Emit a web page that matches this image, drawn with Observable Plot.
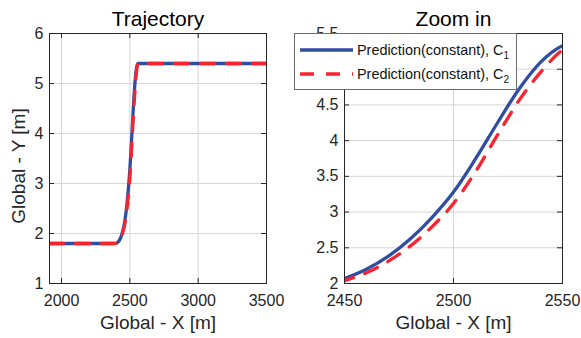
<!DOCTYPE html>
<html>
<head>
<meta charset="utf-8">
<script src="https://cdn.jsdelivr.net/npm/d3@7"></script>
<script src="https://cdn.jsdelivr.net/npm/@observablehq/plot@0.6"></script>
<style>
  body { margin: 0; background: #fff; }
  #wrap { position: relative; width: 581px; height: 338px; font-family: "Liberation Sans", Arial, sans-serif; color: #262626; overflow: hidden; }
  #wrap > svg { position: absolute; top: 0; }
  #legend { position: absolute; left: 294px; top: 33px; width: 223px; height: 57px; box-sizing: border-box;
            border: 1px solid #6a6a6a; background: #fff; z-index: 5; }
  #legend .row { position: absolute; left: 0; height: 20px; width: 100%; }
  #legend .row svg { position: absolute; left: 0; top: 0; }
  #legend .row span { position: absolute; left: 62px; font-size: 14.4px; white-space: nowrap; line-height: 1; color: #111; }
  #legend sub { font-size: 10px; vertical-align: -4px; line-height: 0; }
</style>
</head>
<body>
<div id="wrap"></div>
<script>
// ---- data ----
const titles = ["Trajectory", "Zoom in"];
const xLabel = "Global - X [m]";
const yLabel = "Global - Y [m]";
const seriesNames = ["Prediction(constant), C", "Prediction(constant), C"];
const seriesSubs = ["1", "2"];

// C1 (solid blue)
const xC1 = [1912, 2380, 2400, 2410, 2420, 2430, 2440, 2450, 2460, 2470, 2480, 2490, 2500, 2510, 2520, 2530, 2540, 2550, 2555, 2560, 3500];
const yC1 = [1.8, 1.8, 1.805, 1.82, 1.85, 1.9, 1.97, 2.07, 2.2, 2.38, 2.62, 2.92, 3.28, 3.74, 4.24, 4.72, 5.1, 5.33, 5.38, 5.4, 5.4];
// C2 (dashed red)
const xC2 = [1912, 2380, 2400, 2410, 2420, 2430, 2440, 2450, 2460, 2470, 2480, 2490, 2500, 2510, 2520, 2530, 2540, 2550, 2555, 2560, 2570, 3500];
const yC2 = [1.8, 1.8, 1.803, 1.815, 1.845, 1.89, 1.95, 2.04, 2.15, 2.31, 2.52, 2.79, 3.12, 3.56, 4.07, 4.56, 4.96, 5.27, 5.36, 5.395, 5.4, 5.4];

// axes / ticks
const xDomainL = [1912, 3500], yDomainL = [1, 6];
const xTicksL = [2000, 2500, 3000, 3500];
const yTicksL = [1, 2, 3, 4, 5, 6];
const xDomainR = [2450, 2550], yDomainR = [2, 5.5];
const xTicksR = [2450, 2500, 2550];
const yTicksR = [2, 2.5, 3, 3.5, 4, 4.5, 5, 5.5];

// ---- styles ----
const BLUE = "#2f4ea3", RED = "#f7232f", GRID = "#d6d6d6", AXIS = "#262626";
const DASH = "14,12";
const FONT = "Liberation Sans, Arial, sans-serif";

const c1 = xC1.map((x, i) => ({x, y: yC1[i]}));
const c2 = xC2.map((x, i) => ({x, y: yC2[i]}));

function panel({width, mLeft, mRight, title, xDomain, yDomain, xTicks, yTicks}) {
  const mTop = 33, mBottom = 55, height = 338;
  const pw = width - mLeft - mRight, ph = height - mTop - mBottom;
  const tl = 5;
  return Plot.plot({
    width, height,
    marginLeft: mLeft, marginRight: mRight, marginTop: mTop, marginBottom: mBottom,
    style: {fontFamily: FONT, fontSize: "16px", color: AXIS, background: "white", overflow: "visible"},
    x: {domain: xDomain, label: null},
    y: {domain: yDomain, label: null},
    marks: [
      Plot.gridX(xTicks, {stroke: GRID, strokeOpacity: 1, strokeWidth: 1}),
      Plot.gridY(yTicks, {stroke: GRID, strokeOpacity: 1, strokeWidth: 1}),
      Plot.line(c1, {x: "x", y: "y", stroke: BLUE, strokeWidth: 3.3, curve: "monotone-x", clip: true}),
      Plot.line(c2, {x: "x", y: "y", stroke: RED, strokeWidth: 3.3, strokeDasharray: DASH, curve: "monotone-x", clip: true}),
      Plot.frame({stroke: AXIS, strokeWidth: 1}),
      Plot.tickY(yTicks, {y: d => d, stroke: AXIS, insetRight: pw - tl}),
      Plot.tickY(yTicks, {y: d => d, stroke: AXIS, insetLeft: pw - tl}),
      Plot.tickX(xTicks, {x: d => d, stroke: AXIS, insetTop: ph - tl}),
      Plot.tickX(xTicks, {x: d => d, stroke: AXIS, insetBottom: ph - tl}),
      Plot.axisX(xTicks, {tickSize: 0, tickPadding: 11, tickFormat: d => String(d), fontSize: 16, fill: AXIS, label: null}),
      Plot.axisY(yTicks, {tickSize: 0, tickPadding: 6, tickFormat: d => String(d), fontSize: 16, fill: AXIS, label: null}),
      Plot.text([xLabel], {frameAnchor: "bottom", lineAnchor: "bottom", dy: 45, text: d => d, fontSize: 19, fill: AXIS}),
      Plot.text([title], {frameAnchor: "top", lineAnchor: "bottom", dy: -8, text: d => d, fontSize: 21, fill: "#000"})
    ]
  });
}

const wrap = document.getElementById("wrap");
const left = panel({width: 290, mLeft: 49, mRight: 24, title: titles[0], xDomain: xDomainL, yDomain: yDomainL, xTicks: xTicksL, yTicks: yTicksL});
left.style.left = "0px";
wrap.appendChild(left);
d3.select(left).append("text")
  .attr("transform", "translate(25,166) rotate(-90)")
  .attr("text-anchor", "middle")
  .attr("font-family", FONT).attr("font-size", 19).attr("fill", AXIS)
  .text(yLabel);

const right = panel({width: 291, mLeft: 54, mRight: 19, title: titles[1], xDomain: xDomainR, yDomain: yDomainR, xTicks: xTicksR, yTicks: yTicksR});
right.style.left = "290px";
wrap.appendChild(right);

// legend
const legend = document.createElement("div");
legend.id = "legend";
const rowsY = [15.5, 39.5];
seriesNames.forEach((name, i) => {
  const row = document.createElement("div");
  row.className = "row";
  row.style.top = (rowsY[i] - 10) + "px";
  const s = d3.create("svg").attr("width", 62).attr("height", 20);
  s.append("line").attr("x1", 5).attr("x2", 58).attr("y1", 10).attr("y2", 10)
    .attr("stroke", i === 0 ? BLUE : RED).attr("stroke-width", 3.3)
    .attr("stroke-dasharray", i === 0 ? null : DASH);
  row.appendChild(s.node());
  const sp = document.createElement("span");
  sp.style.top = "3px";
  sp.innerHTML = name + "<sub>" + seriesSubs[i] + "</sub>";
  row.appendChild(sp);
  legend.appendChild(row);
});
wrap.appendChild(legend);
</script>
</body>
</html>
